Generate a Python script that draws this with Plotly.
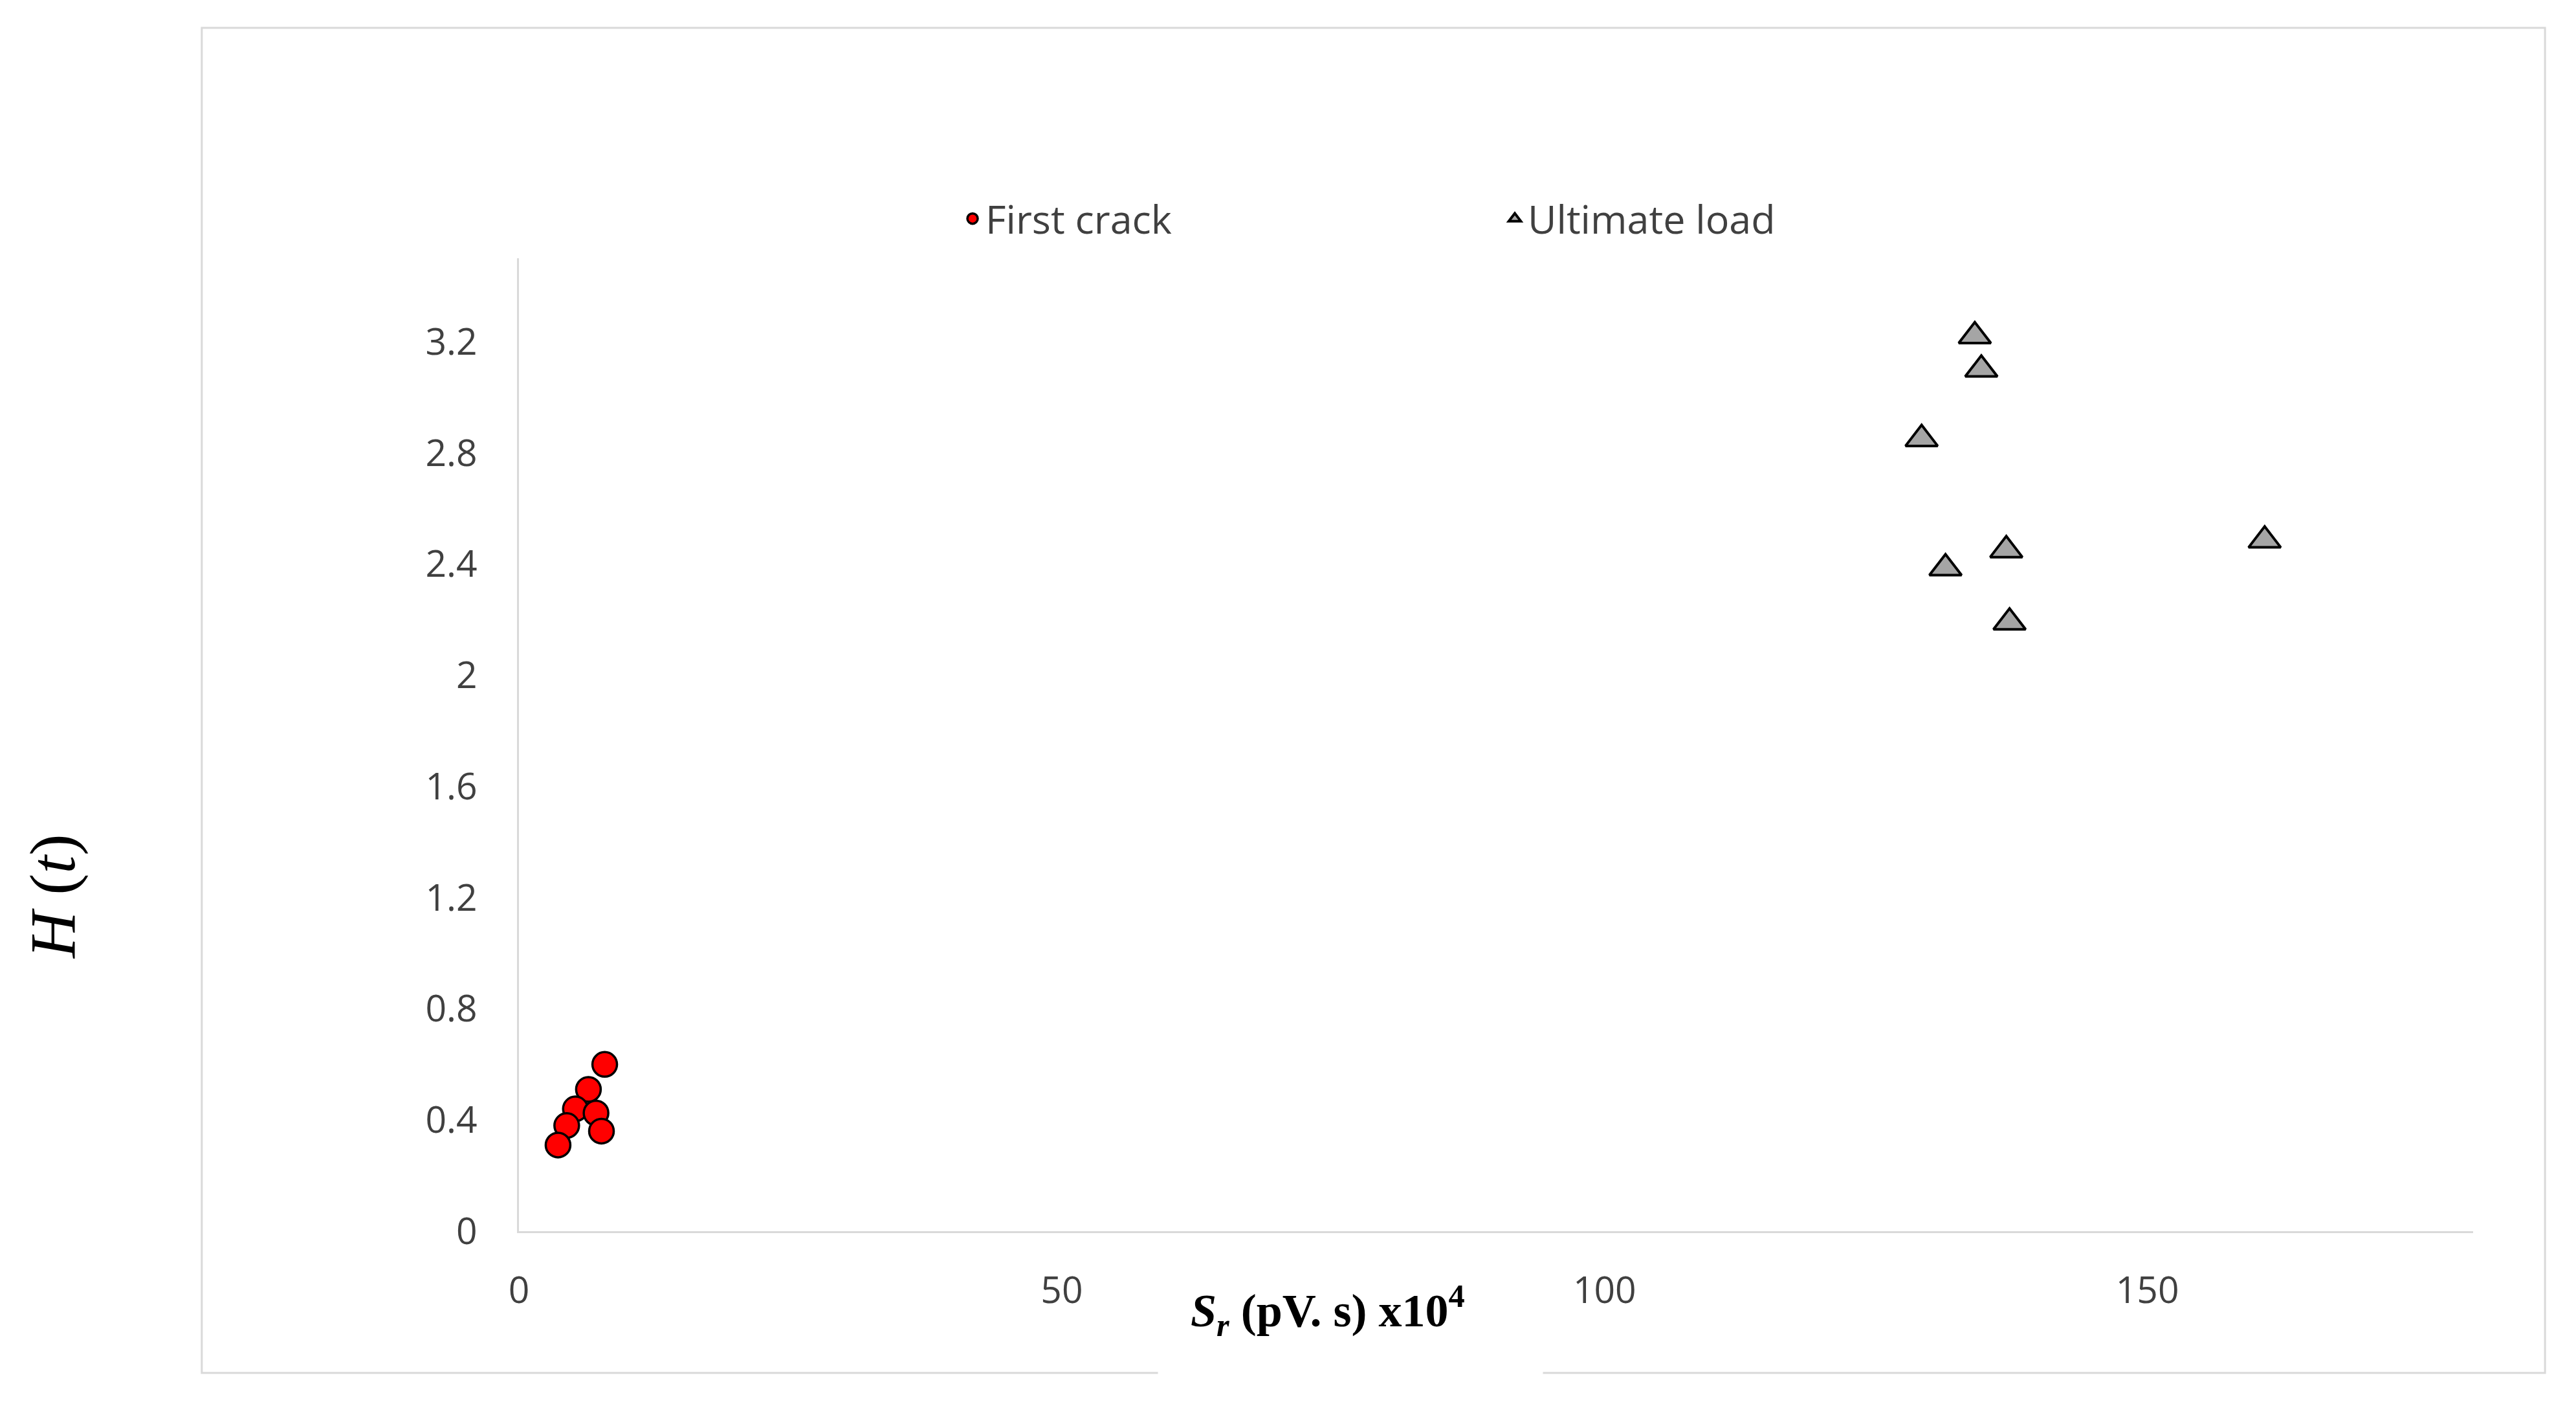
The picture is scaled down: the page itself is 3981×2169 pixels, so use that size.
import plotly.graph_objects as go

# First crack points (Sr x10^4, H)
crack_sr = [7.9, 6.4, 5.2, 7.1, 4.4, 7.6, 3.6]
crack_h = [0.60, 0.51, 0.44, 0.425, 0.38, 0.36, 0.31]

# Ultimate load points
ult_sr = [134.1, 134.7, 129.2, 131.4, 137.0, 137.3, 160.8]
ult_h = [3.22, 3.10, 2.85, 2.385, 2.45, 2.19, 2.485]

x_ticks = [0, 50, 100, 150]
y_ticks = [0, 0.4, 0.8, 1.2, 1.6, 2.0, 2.4, 2.8, 3.2]
y_ticktext = ["0", "0.4", "0.8", "1.2", "1.6", "2", "2.4", "2.8", "3.2"]

# page body has an 8px margin, so the figure is a bit smaller than the window
W, H = 3965, 2153
sans = "Open Sans"
serif = "Liberation Serif"
grey_line = "#d9d9d9"
text_col = "#404040"

fig = go.Figure()
fig.add_trace(go.Scatter(
    x=crack_sr, y=crack_h, mode="markers", name="First crack",
    marker=dict(symbol="circle", size=38, color="#ff0000",
                line=dict(color="#000000", width=3.5)),
))
fig.add_trace(go.Scatter(
    x=ult_sr, y=ult_h, mode="markers", name="Ultimate load",
    marker=dict(symbol="triangle-up", size=43, color="#a5a5a5",
                line=dict(color="#000000", width=4)),
))

# outer chart frame plus white patch behind the x title
fig.add_shape(type="rect", xref="paper", yref="paper",
              x0=-0.1623, x1=1.0368, y0=-0.1457, y1=1.2369,
              line=dict(color=grey_line, width=3), fillcolor="rgba(0,0,0,0)")
fig.add_shape(type="rect", xref="paper", yref="paper",
              x0=0.327, x1=0.524, y0=-0.178, y1=-0.038,
              line=dict(width=0), fillcolor="white")

fig.add_annotation(
    xref="paper", yref="paper", x=0.4139, y=-0.0812, showarrow=False,
    text="<b><i>S</i><sub><i>r</i></sub> (pV. s) x10<sup>4</sup></b>",
    font=dict(family=serif, size=72, color="#000000"),
    xanchor="center", yanchor="middle",
)
fig.add_annotation(
    xref="paper", yref="paper", x=-0.2384, y=0.344, showarrow=False,
    text="<i>H</i> (<i>t</i>)", textangle=-90,
    font=dict(family=serif, size=100, color="#000000"),
    xanchor="center", yanchor="middle",
)

fig.update_layout(
    width=W, height=H,
    margin=dict(l=794, r=151, t=391, b=259),
    paper_bgcolor="white", plot_bgcolor="white",
    font=dict(family=sans, size=57, color=text_col),
    showlegend=True,
    legend=dict(orientation="h", x=0.2255, xanchor="left", y=1.0406, yanchor="middle",
                entrywidth=793, font=dict(family=sans, size=61, color=text_col),
                bgcolor="rgba(0,0,0,0)"),
)
fig.update_xaxes(range=[0, 180], tickvals=x_ticks, showgrid=False, zeroline=False,
                 showline=True, linecolor=grey_line, linewidth=3,
                 ticks="", ticklabelstandoff=40)
fig.update_yaxes(range=[0, 3.5], tickvals=y_ticks, ticktext=y_ticktext, showgrid=False,
                 zeroline=False, showline=True, linecolor=grey_line, linewidth=3,
                 ticks="", ticklabelstandoff=50)

fig.write_html("out.html")
